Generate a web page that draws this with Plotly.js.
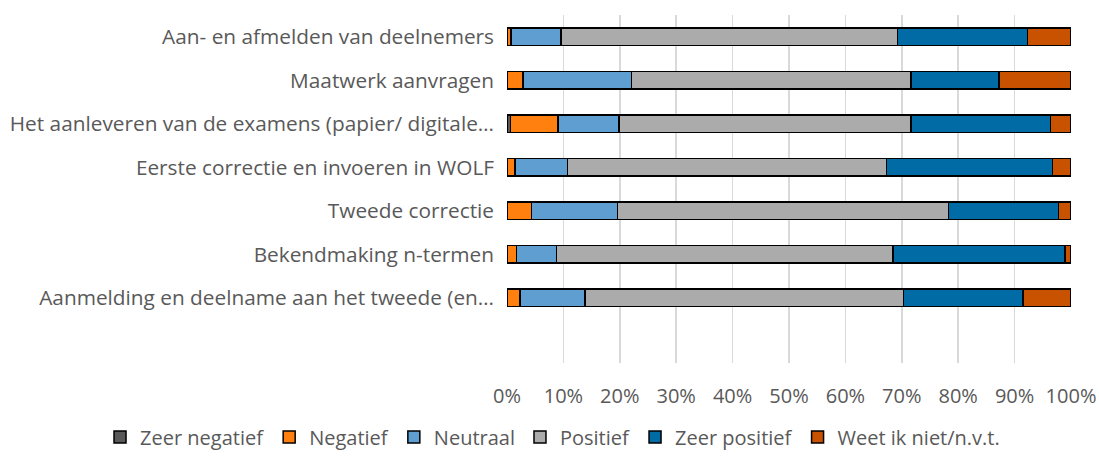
<!DOCTYPE html>
<html>
<head>
<meta charset="utf-8">
<script src="https://cdn.plot.ly/plotly-3.0.1.min.js"></script>
<style>html,body{margin:0;padding:0;background:#fff;}#chart{width:1099px;height:457px;}</style>
</head>
<body>
<div id="chart"></div>
<script>
// Categories (bottom to top order as drawn)
const categories = [
  "Aanmelding en deelname aan het tweede (en…",
  "Bekendmaking n-termen",
  "Tweede correctie",
  "Eerste correctie en invoeren in WOLF",
  "Het aanleveren van de examens (papier/ digitale…",
  "Maatwerk aanvragen",
  "Aan- en afmelden van deelnemers"
];
const seriesNames = ["Zeer negatief", "Negatief", "Neutraal", "Positief", "Zeer positief", "Weet ik niet/n.v.t."];
// Percentages per series, same order as categories
const zeerNegatief = [0.0, 0.0, 0.0, 0.0, 0.6, 0.0, 0.0];
const negatief     = [2.3, 1.7, 4.3, 1.4, 8.4, 2.8, 0.7];
const neutraal     = [11.5, 7.1, 15.3, 9.3, 10.9, 19.3, 8.9];
const positief     = [56.5, 59.6, 58.7, 56.6, 51.7, 49.5, 59.6];
const zeerPositief = [21.2, 30.5, 19.5, 29.4, 24.8, 15.6, 23.1];
const weetNiet     = [8.5, 1.1, 2.2, 3.3, 3.6, 12.8, 7.7];
const tickVals = [0, 10, 20, 30, 40, 50, 60, 70, 80, 90, 100];
const tickText = ["0%", "10%", "20%", "30%", "40%", "50%", "60%", "70%", "80%", "90%", "100%"];

const colors = ["#595959", "#FF800E", "#5F9ED1", "#ABABAB", "#006BA4", "#C85200"];
const allSeries = [zeerNegatief, negatief, neutraal, positief, zeerPositief, weetNiet];

const traces = allSeries.map((vals, i) => ({
  type: "bar",
  orientation: "h",
  name: seriesNames[i],
  y: categories,
  x: vals,
  marker: { color: colors[i], line: { color: "#000000", width: 1.5 } },
  hoverinfo: "name+x"
}));

const layout = {
  width: 1099,
  height: 457,
  margin: { l: 507, r: 28, t: 15, b: 94, autoexpand: false },
  barmode: "stack",
  bargap: 0.59,
  paper_bgcolor: "#ffffff",
  plot_bgcolor: "#ffffff",
  font: { family: "Open Sans, sans-serif", size: 20, color: "#595959" },
  xaxis: {
    range: [0, 100],
    tickvals: tickVals,
    ticktext: tickText,
    showgrid: true,
    gridcolor: "#D9D9D9",
    gridwidth: 1.5,
    zeroline: false,
    showline: false,
    ticks: "",
    ticklabelstandoff: 19,
    tickfont: { size: 20, color: "#595959" },
    fixedrange: true
  },
  yaxis: {
    type: "category",
    categoryorder: "array",
    categoryarray: categories,
    range: [-1.5, 6.5],
    showgrid: false,
    zeroline: false,
    showline: false,
    ticks: "",
    ticklabelstandoff: 12,
    tickfont: { size: 20.8, color: "#595959" },
    fixedrange: true
  },
  showlegend: true,
  legend: {
    orientation: "h",
    xref: "paper",
    yref: "paper",
    x: -0.7216,
    xanchor: "left",
    y: -0.2126,
    yanchor: "middle",
    bgcolor: "rgba(0,0,0,0)",
    font: { size: 20, color: "#595959" },
    traceorder: "normal",
    itemwidth: 30
  }
};

Plotly.newPlot("chart", traces, layout, { displayModeBar: false, staticPlot: true });
</script>
</body>
</html>
